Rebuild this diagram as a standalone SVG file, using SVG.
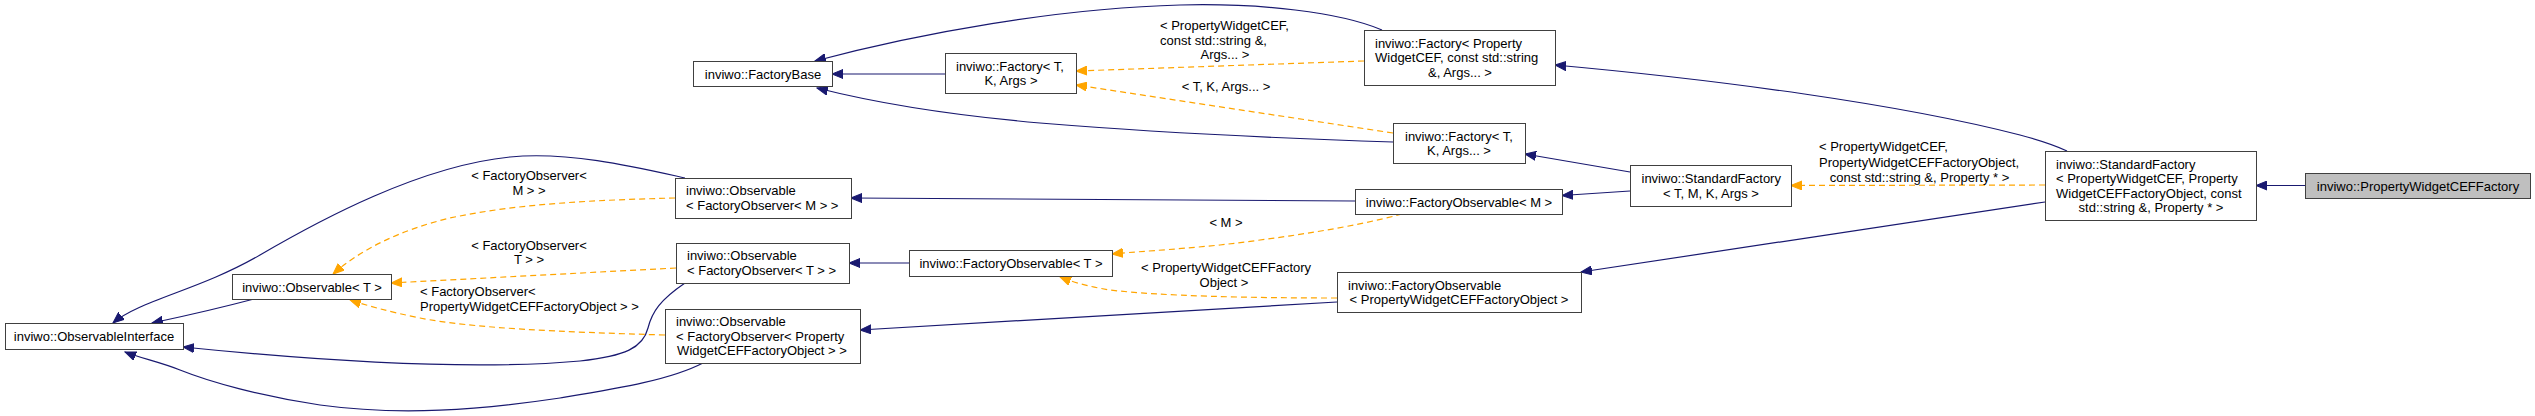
<svg xmlns="http://www.w3.org/2000/svg" width="2535" height="416" viewBox="0 0 2535 416">
<style>
text{font-family:"Liberation Sans",Arial,sans-serif;font-size:13px;fill:#000}
.c{text-anchor:middle}
.n rect{fill:#fff;stroke:#404040;stroke-width:1}
.n rect.h{fill:#bfbfbf}
.e{fill:none;stroke:#191970;stroke-width:1.2}
.t{fill:none;stroke:#FFA500;stroke-width:1.2;stroke-dasharray:6,4}
</style>
<defs>
<marker id="ab" markerUnits="userSpaceOnUse" markerWidth="12" markerHeight="10" refX="11" refY="5" orient="auto"><path d="M0,0.5 L11,5 L0,9.5 z" fill="#191970" stroke="#191970"/></marker>
<marker id="ao" markerUnits="userSpaceOnUse" markerWidth="12" markerHeight="10" refX="11" refY="5" orient="auto"><path d="M0,0.5 L11,5 L0,9.5 z" fill="#FFA500" stroke="#FFA500"/></marker>
</defs>
<rect width="2535" height="416" fill="#fff"/>
<g id="connectors">
<path class="e" marker-end="url(#ab)" d="M254,299 C220,308 185,316 152,323"/>
<path class="e" marker-end="url(#ab)" d="M685,178 C640,168 570,151 510,157 C420,166 320,220 260,255 C200,290 140,300 113,323"/>
<path class="e" marker-end="url(#ab)" d="M685,283 C660,300 652,312 648,328 C643,348 625,356 580,361 C480,370 330,362 183,347"/>
<path class="e" marker-end="url(#ab)" d="M703,363 C670,380 620,388 560,398 C480,410 400,416 320,405 C260,396 210,382 180,370 C160,362 140,358 125,352"/>
<path class="t" marker-end="url(#ao)" d="M675,198 C600,200 520,203 450,218 C400,230 360,250 333,274"/>
<path class="t" marker-end="url(#ao)" d="M676,268 L391,283"/>
<path class="t" marker-end="url(#ao)" d="M665,335 C560,332 470,328 420,318 C390,312 365,305 350,300"/>
<path class="e" marker-end="url(#ab)" d="M945,74 L832,74"/>
<path class="e" marker-end="url(#ab)" d="M1382,30 C1340,12 1260,3 1180,5 C1060,8 920,33 815,61"/>
<path class="e" marker-end="url(#ab)" d="M1393,142 C1300,139 1150,132 1040,123 C960,116 880,104 817,88"/>
<path class="t" marker-end="url(#ao)" d="M1364,61 L1076,71"/>
<path class="t" marker-end="url(#ao)" d="M1393,133 L1076,85"/>
<path class="e" marker-end="url(#ab)" d="M1630,172 L1525,154"/>
<path class="e" marker-end="url(#ab)" d="M1630,191 L1562,195.5"/>
<path class="e" marker-end="url(#ab)" d="M1355,201 L851,198"/>
<path class="e" marker-end="url(#ab)" d="M909,263 L849,263"/>
<path class="t" marker-end="url(#ao)" d="M1402,214 C1350,228 1280,238 1220,245 C1170,250 1130,252 1112,254"/>
<path class="t" marker-end="url(#ao)" d="M1337,298 C1250,298 1160,296 1110,290 C1085,286 1070,281 1060,277"/>
<path class="e" marker-end="url(#ab)" d="M1337,302 L860,330"/>
<path class="e" marker-end="url(#ab)" d="M2067,151 C2050,143 2035,139 2020,135 C1900,104 1720,80 1555,65"/>
<path class="t" marker-end="url(#ao)" d="M2045,185 L1791,185.5"/>
<path class="e" marker-end="url(#ab)" d="M2045,202 L1581,272"/>
<path class="e" marker-end="url(#ab)" d="M2305,185.5 L2256,185.5"/>
<text class="c" x="529" y="180">&lt; FactoryObserver&lt;</text>
<text class="c" x="529" y="194.5">M &gt; &gt;</text>
<text class="c" x="529" y="250">&lt; FactoryObserver&lt;</text>
<text class="c" x="529" y="264">T &gt; &gt;</text>
<text x="420" y="296">&lt; FactoryObserver&lt;</text>
<text x="420" y="310.5">PropertyWidgetCEFFactoryObject &gt; &gt;</text>
<text x="1160" y="29.5">&lt; PropertyWidgetCEF,</text>
<text x="1160" y="44.5">const std::string &amp;,</text>
<text class="c" x="1225" y="58.5">Args... &gt;</text>
<text class="c" x="1226" y="90.5">&lt; T, K, Args... &gt;</text>
<text class="c" x="1226" y="226.5">&lt; M &gt;</text>
<text class="c" x="1226" y="272">&lt; PropertyWidgetCEFFactory</text>
<text class="c" x="1224" y="286.5">Object &gt;</text>
<text x="1819" y="151">&lt; PropertyWidgetCEF,</text>
<text x="1819" y="167">PropertyWidgetCEFFactoryObject,</text>
<text class="c" x="1919.5" y="182">const std::string &amp;, Property * &gt;</text>
</g>
<g id="n_observableinterface" class="n"><rect x="5.5" y="323.5" width="178" height="26"/><text class="c" x="94" y="341">inviwo::ObservableInterface</text></g>
<g id="n_observable_t" class="n"><rect x="232.5" y="274.5" width="159" height="25"/><text class="c" x="312" y="291.5">inviwo::Observable&lt; T &gt;</text></g>
<g id="n_observable_fo_m" class="n"><rect x="675.5" y="178.5" width="176" height="40"/><text x="686" y="195">inviwo::Observable</text><text x="686" y="210">&lt; FactoryObserver&lt; M &gt; &gt;</text></g>
<g id="n_observable_fo_t" class="n"><rect x="676.5" y="243.5" width="173" height="40"/><text x="687" y="260">inviwo::Observable</text><text x="687" y="275">&lt; FactoryObserver&lt; T &gt; &gt;</text></g>
<g id="n_observable_fo_pw" class="n"><rect x="665.5" y="309.5" width="195" height="54"/><text x="676" y="326">inviwo::Observable</text><text x="676" y="340.5">&lt; FactoryObserver&lt; Property</text><text class="c" x="762" y="355">WidgetCEFFactoryObject &gt; &gt;</text></g>
<g id="n_factorybase" class="n"><rect x="693.5" y="61.5" width="139" height="25"/><text class="c" x="763" y="78.5">inviwo::FactoryBase</text></g>
<g id="n_factory_tka" class="n"><rect x="945.5" y="53.5" width="131" height="40"/><text x="956" y="70.5">inviwo::Factory&lt; T,</text><text class="c" x="1011" y="85">K, Args &gt;</text></g>
<g id="n_factoryobservable_t" class="n"><rect x="909.5" y="250.5" width="203" height="26"/><text class="c" x="1011" y="268">inviwo::FactoryObservable&lt; T &gt;</text></g>
<g id="n_factory_pw" class="n"><rect x="1364.5" y="30.5" width="191" height="55"/><text x="1375" y="47.5">inviwo::Factory&lt; Property</text><text x="1375" y="62">WidgetCEF, const std::string</text><text class="c" x="1460" y="76.5">&amp;, Args... &gt;</text></g>
<g id="n_factory_tkargs" class="n"><rect x="1393.5" y="123.5" width="132" height="40"/><text x="1405" y="140.5">inviwo::Factory&lt; T,</text><text class="c" x="1459" y="155">K, Args... &gt;</text></g>
<g id="n_factoryobservable_m" class="n"><rect x="1355.5" y="189.5" width="207" height="25"/><text class="c" x="1459" y="206.5">inviwo::FactoryObservable&lt; M &gt;</text></g>
<g id="n_standardfactory_tmka" class="n"><rect x="1630.5" y="165.5" width="161" height="41"/><text x="1641.5" y="183">inviwo::StandardFactory</text><text class="c" x="1711" y="197.5">&lt; T, M, K, Args &gt;</text></g>
<g id="n_factoryobservable_pw" class="n"><rect x="1337.5" y="272.5" width="244" height="40"/><text x="1348" y="289.5">inviwo::FactoryObservable</text><text class="c" x="1459" y="304">&lt; PropertyWidgetCEFFactoryObject &gt;</text></g>
<g id="n_standardfactory_pw" class="n"><rect x="2045.5" y="151.5" width="211" height="69"/><text x="2056" y="168.5">inviwo::StandardFactory</text><text x="2056" y="183">&lt; PropertyWidgetCEF, Property</text><text x="2056" y="197.5">WidgetCEFFactoryObject, const</text><text class="c" x="2151" y="212">std::string &amp;, Property * &gt;</text></g>
<g id="n_propertywidgetceffactory" class="n"><rect class="h" x="2305.5" y="173.5" width="225" height="25"/><text class="c" x="2418" y="190.5">inviwo::PropertyWidgetCEFFactory</text></g>
</svg>
